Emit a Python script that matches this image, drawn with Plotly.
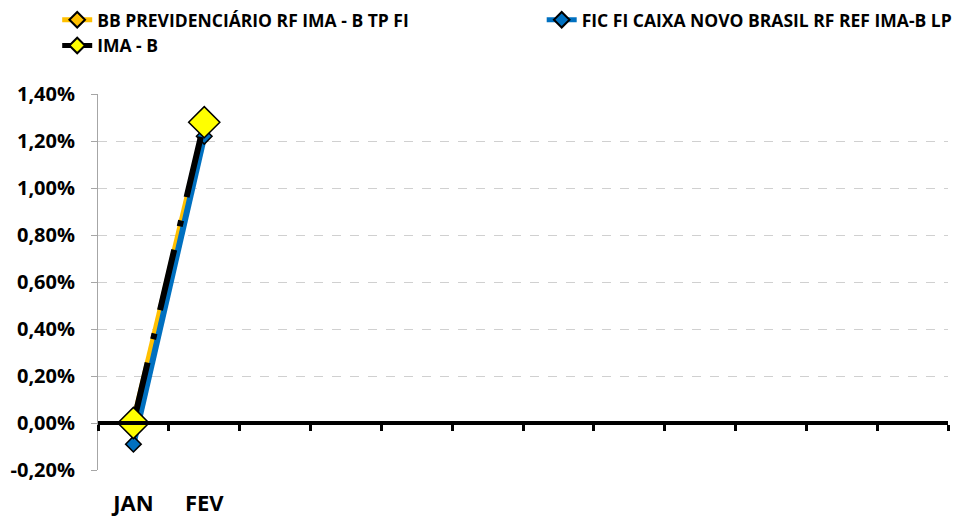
import plotly.graph_objects as go

months = ["JAN", "FEV", "MAR", "ABR", "MAI", "JUN", "JUL", "AGO", "SET", "OUT", "NOV", "DEZ"]
tick_labels = ["JAN", "FEV", "", "", "", "", "", "", "", "", "", ""]
bb_prev = [0.01, 1.27, None, None, None, None, None, None, None, None, None, None]
fic_caixa = [-0.09, 1.22, None, None, None, None, None, None, None, None, None, None]
ima_b = [0.00, 1.28, None, None, None, None, None, None, None, None, None, None]
y_ticks = [-0.2, 0.0, 0.2, 0.4, 0.6, 0.8, 1.0, 1.2, 1.4]
y_tick_labels = ["-0,20%", "0,00%", "0,20%", "0,40%", "0,60%", "0,80%", "1,00%", "1,20%", "1,40%"]


def frac(vals):
    return [None if v is None else v / 100 for v in vals]


FONT = "Open Sans"
LEG_FONT = dict(family=FONT, size=17.5, color="black", weight="bold")

fig = go.Figure()
fig.add_trace(go.Scatter(
    x=months, y=frac(bb_prev), name="BB PREVIDENCIÁRIO RF IMA - B TP FI",
    mode="lines+markers", legend="legend",
    line=dict(color="#FFC000", width=5),
    marker=dict(symbol="diamond", size=9, color="#FFC000", line=dict(color="black", width=1.5)),
))
fig.add_trace(go.Scatter(
    x=months, y=frac(fic_caixa), name="FIC FI CAIXA NOVO BRASIL RF REF IMA-B LP",
    mode="lines+markers", legend="legend2",
    line=dict(color="#0070C0", width=6),
    marker=dict(symbol="diamond", size=12, color="#0070C0", line=dict(color="black", width=1.5)),
))
fig.add_trace(go.Scatter(
    x=months, y=frac(ima_b), name="IMA - B",
    mode="lines+markers", legend="legend",
    line=dict(color="black", width=6, dash="62px,24px,6px,24px"),
    marker=dict(symbol="diamond", size=24, color="#FFFF00", line=dict(color="black", width=1.5)),
))

y0, y1 = -0.002, 0.014
fig.update_layout(
    width=962, height=509,
    margin=dict(l=90, r=22, t=86, b=47, autoexpand=False),
    paper_bgcolor="white", plot_bgcolor="white",
    font=dict(family=FONT, size=15, color="black"),
    showlegend=True,
    legend=dict(
        orientation="v", x=-0.048, xanchor="left", y=1.245, yref="paper", yanchor="top",
        font=LEG_FONT, itemsizing="constant", tracegroupgap=0, bgcolor="rgba(0,0,0,0)",
    ),
    legend2=dict(
        orientation="v", x=0.522, xanchor="left", y=1.245, yref="paper", yanchor="top",
        font=LEG_FONT, itemsizing="constant", tracegroupgap=0, bgcolor="rgba(0,0,0,0)",
    ),
    xaxis=dict(
        type="category", categoryorder="array", categoryarray=months,
        tickmode="array", tickvals=months, ticktext=tick_labels,
        range=[-0.5, 11.5], showgrid=False, zeroline=False, showline=False,
        ticks="", ticklabelstandoff=18,
        tickfont=dict(family=FONT, size=22, color="black", weight="bold"),
    ),
    xaxis2=dict(
        overlaying="x", anchor="free", position=(0 - y0) / (y1 - y0),
        range=[-0.5, 11.5], tick0=-0.5, dtick=1, showticklabels=False,
        showline=True, linecolor="black", linewidth=4,
        ticks="outside", ticklen=6, tickwidth=3, tickcolor="black",
        showgrid=False, zeroline=False,
    ),
    yaxis=dict(
        range=[y0, y1], tickmode="array", tickvals=[v / 100 for v in y_ticks],
        ticktext=y_tick_labels, ticklabelstandoff=12,
        showgrid=True, gridcolor="#D0D0D0", griddash="dash", gridwidth=1,
        zeroline=False, showline=True, linecolor="#A6A6A6", linewidth=1,
        ticks="outside", ticklen=6, tickcolor="#A6A6A6",
        tickfont=dict(family=FONT, size=20, color="black", weight="bold"),
    ),
)
# invisible helper trace so the overlay axis renders
fig.add_trace(go.Scatter(x=[-0.5, 11.5], y=[None, None], xaxis="x2", showlegend=False, hoverinfo="skip"))

fig.write_html("out.html")
